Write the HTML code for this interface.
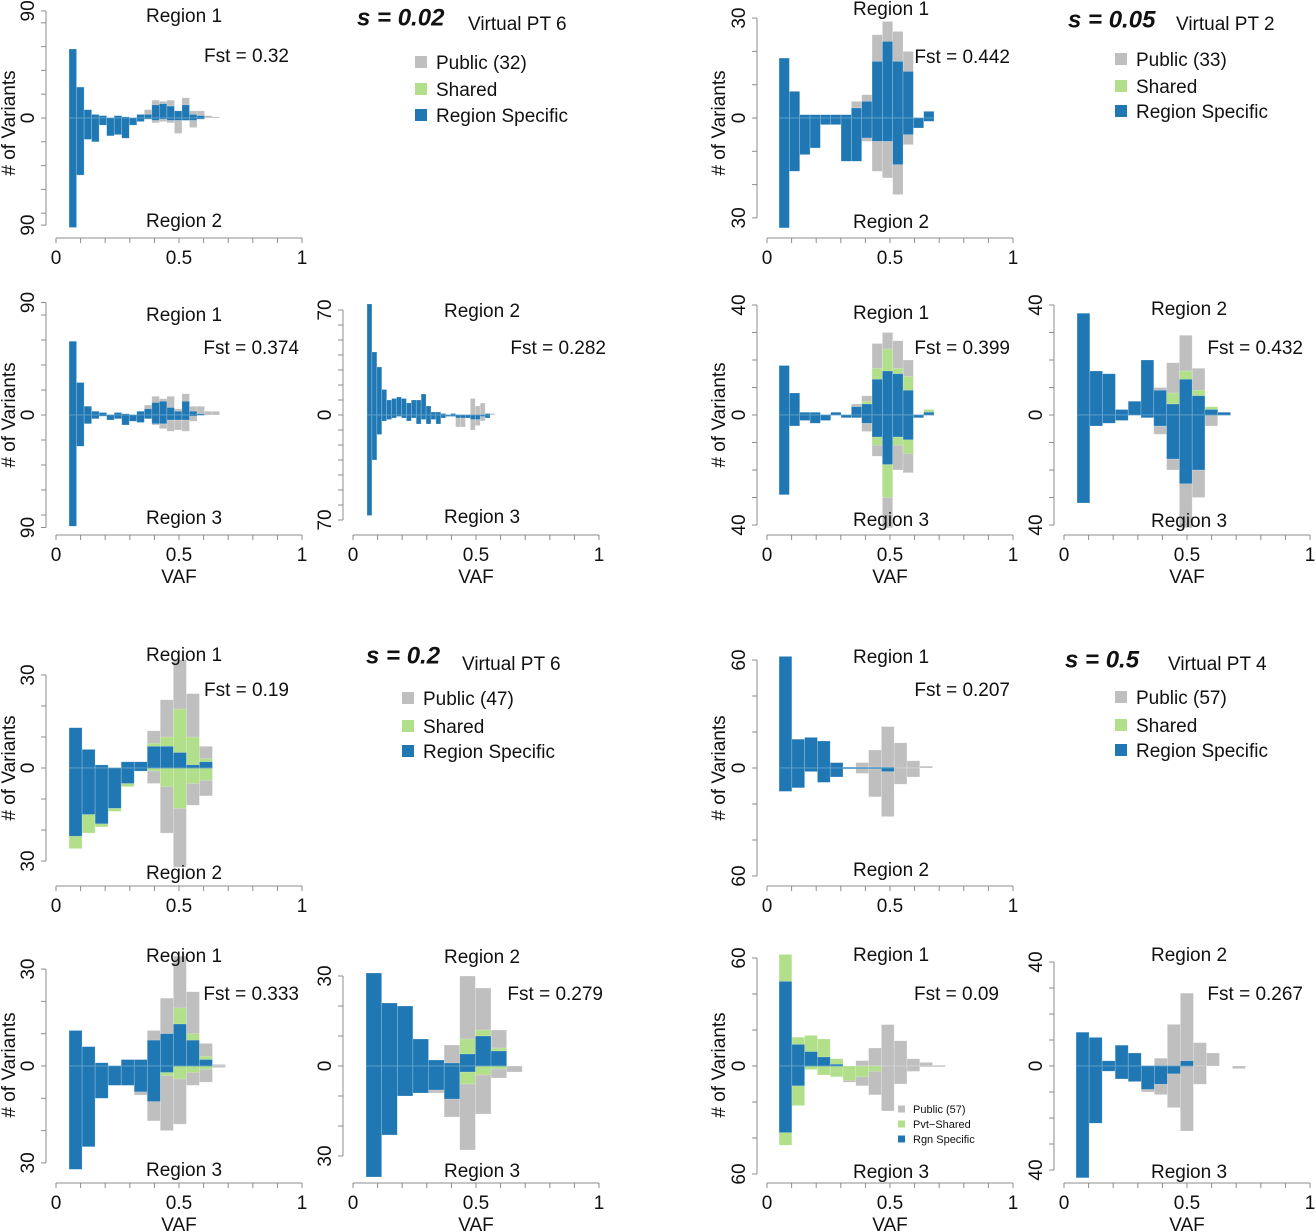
<!DOCTYPE html>
<html><head><meta charset="utf-8"><style>
html,body{margin:0;padding:0;background:#fff;}
svg{display:block;font-family:"Liberation Sans",sans-serif;}
</style></head><body>
<svg id="fig" width="1315" height="1232" viewBox="0 0 1315 1232"></svg>
<script>
// ---- data arrays (counts per VAF bin; up = upper region, dn = lower region; stacked totals) ----
const a1Blue=[58,26,7,3,2,0,2,1,0,3,3,11,12,10,6,11,3,2,0,0];
const a1Gray=[0,0,0,0,0,0,0,0,0,0,7,15,14,15,6,17,6,6,2,1];
const a1BlueDn=[92,48,18,20,6,15,14,17,6,3,1,2,1,2,2,2,2,1,0,0];
const a1GrayDn=[0,0,0,0,0,0,0,0,0,0,0,4,3,4,13,2,8,1,0,0];

const a2Blue=[18,8,1,1,1,1,1,3,5,17,23,17,14,0,2];
const a2Gray=[0,0,0,0,0,0,0,5,7,25,29,26,20,0,0];
const a2BlueDn=[33,16,11,9,2,2,13,13,6,7,7,14,5,3,1];
const a2GrayDn=[0,0,0,0,0,0,0,0,7,16,18,23,8,0,0];

const b1Blue=[59,26,7,3,2,0,2,1,0,3,5,10,11,6,3,11,3,1,0,0];
const b1Gray=[0,0,0,0,0,0,0,0,0,0,8,15,13,15,5,17,7,7,3,3];
const b1BlueDn=[89,25,7,3,1,4,3,8,5,6,3,7,7,4,4,4,1,0,0,0];
const b1GrayDn=[0,0,0,0,0,0,0,0,0,0,0,8,11,13,12,13,5,0,0,0];

const b2Blue=[74,42,32,17,10,11,12,11,8,10,10,14,6,2,2,1,0,1,0,0,0,0,0,0,1,0,0];
const b2Gray=[0,0,0,0,0,0,0,0,0,0,0,0,0,0,0,0,0,0,0,0,0,11,6,8,1,1,0];
const b2BlueDn=[67,30,13,4,3,2,1,2,4,2,6,3,6,3,6,2,1,1,2,2,2,3,3,1,2,0,0];
const b2GrayDn=[0,0,0,0,0,0,0,0,0,0,0,0,0,0,0,0,0,0,8,8,0,10,7,4,0,0,0];

const b3Blue=[18,8,1,1,0,1,0,3,4,13,16,15,9,0,1];
const b3Green=[0,0,0,0,0,0,0,0,5,17,24,17,14,0,2];
const b3Gray=[0,0,0,0,0,0,0,4,7,26,30,27,20,0,0];
const b3BlueDn=[29,4,2,3,2,0,1,1,3,8,18,8,9,1,0];
const b3GreenDn=[0,0,0,0,0,0,0,0,0,11,30,11,14,0,0];
const b3GrayDn=[0,0,0,0,0,0,0,0,6,15,41,20,21,0,0];

const b4Blue=[37,16,15,2,5,20,9,4,13,7,2,1];
const b4Green=[0,0,0,0,0,0,0,8,16,9,3,0];
const b4Gray=[0,0,0,0,0,0,10,19,29,17,3,0];
const b4BlueDn=[32,4,3,2,0,1,4,16,25,20,0,0];
const b4GrayDn=[0,0,0,0,0,0,7,20,41,30,4,0];

const c1Blue=[13,6,1,0,2,2,7,7,5,1,2];
const c1Green=[0,0,0,0,0,0,8,10,19,10,3];
const c1Gray=[0,0,0,0,0,0,12,22,35,24,7];
const c1BlueDn=[22,15,18,13,5,1,0,0,0,0,0];
const c1GreenDn=[26,21,19,14,6,0,1,6,13,5,4];
const c1GrayDn=[0,0,0,0,0,0,5,21,32,12,9];

const c2Blue=[62,16,17,15,3,0.5,0.5,0.5,0.5,0,0,0];
const c2Gray=[0,0,0,0,0,0,3,10,23,14,4,1];
const c2BlueDn=[13,11,2,8,5,0.5,0.5,0.5,2,0,0,0];
const c2GrayDn=[0,0,0,0,0,0,3,16,27,9,5,0];

const d1Blue=[11,6,1,0,2,2,8,10,13,8,2,0];
const d1Green=[0,0,0,0,0,0,0,0,18,10,3,0];
const d1Gray=[0,0,0,0,0,0,11,21,34,23,7,0.5];
const d1BlueDn=[32,25,10,6,6,8,11,2,0,0,0,0];
const d1GreenDn=[0,0,0,0,0,0,0,3,4,2,1,0];
const d1GrayDn=[0,0,0,0,0,9,17,20,18,6,5,0.5];

const d2Blue=[31,21,20,9,2,1,4,10,5,0];
const d2Green=[0,0,0,0,0,0,9,12,6,0];
const d2Gray=[0,0,0,0,0,7,30,26,12,0];
const d2BlueDn=[37,23,10,9,8,11,2,0,0,0];
const d2GreenDn=[0,0,0,0,0,0,6,3,1,0];
const d2GrayDn=[0,0,0,0,9,17,28,16,4,2];

const d3Blue=[47,12,8,5,1,0,0,0,0,0,0,0,0];
const d3Green=[62,16,17,15,4,0,0,0,0,0,0,0,0];
const d3Gray=[0,0,0,0,0,0,3,10,23,14,4,2,0.5];
const d3BlueDn=[37,11,0,0,0,0,0,0,0,0,0,0,0];
const d3GreenDn=[44,22,2,5,6,8,6,3,0,0,0,0,0];
const d3GrayDn=[0,0,0,0,0,9,11,16,25,10,3,0.5,0.5];

const d4Blue=[13,11,2,8,5,0,0,0,2,0,0,0,0];
const d4Gray=[0,0,0,0,0,0,3,16,28,9,5,0,0];
const d4BlueDn=[43,22,2,5,6,9,7,3,0,0,0,0,0];
const d4GrayDn=[0,0,0,0,0,10,11,16,25,7,0,0,1];

const xTickLabels=["0","0.5","1"];
const NS="http://www.w3.org/2000/svg";
const svg=document.getElementById('fig');
const BLUE="#1f78b4",GREEN="#b2df8a",GRAY="#bfbfbf",AX="#8c8c8c";

function mk(tag,attrs,parent){const e=document.createElementNS(NS,tag);for(const k in attrs)e.setAttribute(k,attrs[k]);(parent||svg).appendChild(e);return e;}
function txt(s,x,y,size,parent,extra){const t=mk('text',Object.assign({x:x,y:y+2,'font-size':size,fill:'#111','dominant-baseline':'middle'},extra||{}),parent);t.textContent=s;return t;}

const panels=[
 {id:'a1',x0:56,cx:184,zero:118,ppc:1.19,max:90,step:20,axisY:238,start:0.053,w:0.0306,up:[a1Gray,null,a1Blue],dn:[a1GrayDn,null,a1BlueDn],rt:'Region 1',rb:'Region 2',rtY:15,rbY:220,fst:'Fst = 0.32',fstX:289,fstY:55},
 {id:'a2',x0:767,cx:891,zero:118,ppc:3.33,max:30,step:10,axisY:238,start:0.049,w:0.042,up:[a2Gray,null,a2Blue],dn:[a2GrayDn,null,a2BlueDn],rt:'Region 1',rb:'Region 2',rtY:8,rbY:221,fst:'Fst = 0.442',fstX:1010,fstY:56},
 {id:'b1',x0:56,cx:184,zero:415,ppc:1.25,max:90,step:20,axisY:535,start:0.053,w:0.0306,up:[b1Gray,null,b1Blue],dn:[b1GrayDn,null,b1BlueDn],rt:'Region 1',rb:'Region 3',rtY:314,rbY:517,fst:'Fst = 0.374',fstX:299,fstY:347,vaf:true},
 {id:'b2',x0:353,cx:482,zero:415,ppc:1.5,max:70,step:10,axisY:535,start:0.057,w:0.02,up:[b2Gray,null,b2Blue],dn:[b2GrayDn,null,b2BlueDn],rt:'Region 2',rb:'Region 3',rtY:310,rbY:516,fst:'Fst = 0.282',fstX:606,fstY:347,vaf:true},
 {id:'b3',x0:767,cx:891,zero:415,ppc:2.75,max:40,step:10,axisY:535,start:0.049,w:0.042,up:[b3Gray,b3Green,b3Blue],dn:[b3GrayDn,b3GreenDn,b3BlueDn],rt:'Region 1',rb:'Region 3',rtY:312,rbY:519,fst:'Fst = 0.399',fstX:1010,fstY:347,vaf:true},
 {id:'b4',x0:1064,cx:1189,zero:415,ppc:2.75,max:40,step:10,axisY:535,start:0.053,w:0.052,up:[b4Gray,b4Green,b4Blue],dn:[b4GrayDn,null,b4BlueDn],rt:'Region 2',rb:'Region 3',rtY:308,rbY:520,fst:'Fst = 0.432',fstX:1303,fstY:347,vaf:true},
 {id:'c1',x0:56,cx:184,zero:768,ppc:3.1,max:30,step:10,axisY:886,start:0.053,w:0.053,up:[c1Gray,c1Green,c1Blue],dn:[c1GrayDn,c1GreenDn,c1BlueDn],rt:'Region 1',rb:'Region 2',rtY:654,rbY:872,fst:'Fst = 0.19',fstX:289,fstY:689},
 {id:'c2',x0:767,cx:891,zero:768,ppc:1.8,max:60,step:20,axisY:886,start:0.049,w:0.052,up:[c2Gray,null,c2Blue],dn:[c2GrayDn,null,c2BlueDn],rt:'Region 1',rb:'Region 2',rtY:656,rbY:869,fst:'Fst = 0.207',fstX:1010,fstY:689},
 {id:'d1',x0:56,cx:184,zero:1066,ppc:3.23,max:30,step:10,axisY:1183,start:0.053,w:0.053,up:[d1Gray,d1Green,d1Blue],dn:[d1GrayDn,d1GreenDn,d1BlueDn],rt:'Region 1',rb:'Region 3',rtY:955,rbY:1169,fst:'Fst = 0.333',fstX:299,fstY:993,vaf:true},
 {id:'d2',x0:353,cx:482,zero:1066,ppc:3.0,max:30,step:10,axisY:1183,start:0.053,w:0.0635,up:[d2Gray,d2Green,d2Blue],dn:[d2GrayDn,d2GreenDn,d2BlueDn],rt:'Region 2',rb:'Region 3',rtY:956,rbY:1170,fst:'Fst = 0.279',fstX:603,fstY:993,vaf:true},
 {id:'d3',x0:767,cx:891,zero:1066,ppc:1.8,max:60,step:20,axisY:1183,start:0.049,w:0.052,up:[d3Gray,d3Green,d3Blue],dn:[d3GrayDn,d3GreenDn,d3BlueDn],rt:'Region 1',rb:'Region 3',rtY:954,rbY:1171,fst:'Fst = 0.09',fstX:999,fstY:993,vaf:true},
 {id:'d4',x0:1064,cx:1189,zero:1066,ppc:2.6,max:40,step:10,axisY:1183,start:0.049,w:0.053,up:[d4Gray,null,d4Blue],dn:[d4GrayDn,null,d4BlueDn],rt:'Region 2',rb:'Region 3',rtY:954,rbY:1171,fst:'Fst = 0.267',fstX:1303,fstY:993,vaf:true}
];
const PW=246;

panels.forEach(p=>{
  const g=mk('g',{});
  
  
  const xs=v=>p.x0+v*PW;
  const ys=c=>c*p.ppc;
  const cols=[GRAY,GREEN,BLUE];
  const nm=['public','shared','region-specific'];
  let lastBin=0;
  [['up',-1],['dn',1]].forEach(([dir,sgn])=>{
    p[dir].forEach((arr,li)=>{
      if(!arr) return;
      arr.forEach((v,i)=>{
        if(v<=0) return;
        if(li===2 && i>lastBin) lastBin=i;
        const x=xs(p.start+i*p.w), w=p.w*PW, h=ys(v);
        const y=sgn<0?p.zero-h:p.zero;
        const r=mk('rect',{x:x,y:y,width:w,height:h,fill:cols[li],stroke:'rgba(255,255,255,0.35)','stroke-width':0.6},g);
        
        
      });
    });
  });
  const zl=mk('line',{x1:xs(p.start),x2:xs(p.start+(lastBin+1)*p.w),y1:p.zero,y2:p.zero,stroke:'#5a9cc5','stroke-width':0.8},g);
  
  
  const ax=p.x0-10, top=p.zero-ys(p.max), bot=p.zero+ys(p.max);
  const ya=mk('line',{x1:ax,x2:ax,y1:top,y2:bot,stroke:AX,'stroke-width':1},g);
  
  
  const tv=[0];
  for(let c=p.step;c<p.max;c+=p.step){tv.push(c);tv.push(-c);}
  tv.push(p.max);tv.push(-p.max);
  tv.forEach(c=>{mk('line',{x1:ax-5,x2:ax,y1:p.zero-ys(c),y2:p.zero-ys(c),stroke:AX,'stroke-width':1},g);});
  [[top,String(p.max)],[p.zero,'0'],[bot,String(p.max)]].forEach(([y,s])=>{
    const t=txt(s,ax-17,y-2,19,g,{'text-anchor':'middle',transform:'rotate(-90 '+(ax-17)+' '+y+')'});
    
    
  });
  const xa=mk('line',{x1:xs(0),x2:xs(1),y1:p.axisY,y2:p.axisY,stroke:AX,'stroke-width':1},g);
  
  
  for(let k=0;k<=10;k++) mk('line',{x1:xs(k/10),x2:xs(k/10),y1:p.axisY,y2:p.axisY+5,stroke:AX,'stroke-width':1},g);
  xTickLabels.forEach((s,k)=>{
    const t=txt(s,xs(k*0.5),p.axisY+19,19,g,{'text-anchor':'middle'});
    
    
  });
  if(p.vaf){
    const t=txt('VAF',xs(0.5),p.axisY+41,19,g,{'text-anchor':'middle'});
    
    
  }
  const t1=txt(p.rt,p.cx,p.rtY,19,g,{'text-anchor':'middle'});
  
  
  const t2=txt(p.rb,p.cx,p.rbY,19,g,{'text-anchor':'middle'});
  
  
  const t3=txt(p.fst,p.fstX,p.fstY,19,g,{'text-anchor':'end'});
  
  
});

[[10,123],[10,415],[10,768],[10,1065],[720,123],[720,415],[720,768],[720,1065]].forEach(([x,y])=>{
  const t=txt('# of Variants',x,y-2,19,svg,{'text-anchor':'middle',transform:'rotate(-90 '+x+' '+y+')'});
  
  
});

const headers=[
 {s:'s = 0.02',sx:357,sy:17,pt:'Virtual PT 6',px:468,py:23,lx:415,ly:[62,89,115],pub:'Public (32)'},
 {s:'s = 0.05',sx:1068,sy:19,pt:'Virtual PT 2',px:1176,py:23,lx:1115,ly:[59,86,111],pub:'Public (33)'},
 {s:'s = 0.2',sx:366,sy:655,pt:'Virtual PT 6',px:462,py:663,lx:402,ly:[698,726,751],pub:'Public (47)'},
 {s:'s = 0.5',sx:1065,sy:659,pt:'Virtual PT 4',px:1168,py:663,lx:1115,ly:[697,725,750],pub:'Public (57)'}
];
headers.forEach(h=>{
  const a=txt(h.s,h.sx,h.sy,24,svg,{'font-weight':'bold','font-style':'italic'});
  
  
  const b=txt(h.pt,h.px,h.py,19,svg);
  
  
  const labs=[h.pub,'Shared','Region Specific'], cols=[GRAY,GREEN,BLUE];
  labs.forEach((s,i)=>{
    const r=mk('rect',{x:h.lx,y:h.ly[i]-6,width:12,height:12,fill:cols[i]});
    
    
    const t=txt(s,h.lx+21,h.ly[i],19);
    
    
  });
});
['Public (57)','Pvt\u2212Shared','Rgn Specific'].forEach((s,i)=>{
  const y=1109+i*15;
  const r=mk('rect',{x:898,y:y-3.5,width:7,height:7,fill:[GRAY,GREEN,BLUE][i]});
  
  
  const t=txt(s,913,y-1,11);
  
  
});
</script>
</body></html>
